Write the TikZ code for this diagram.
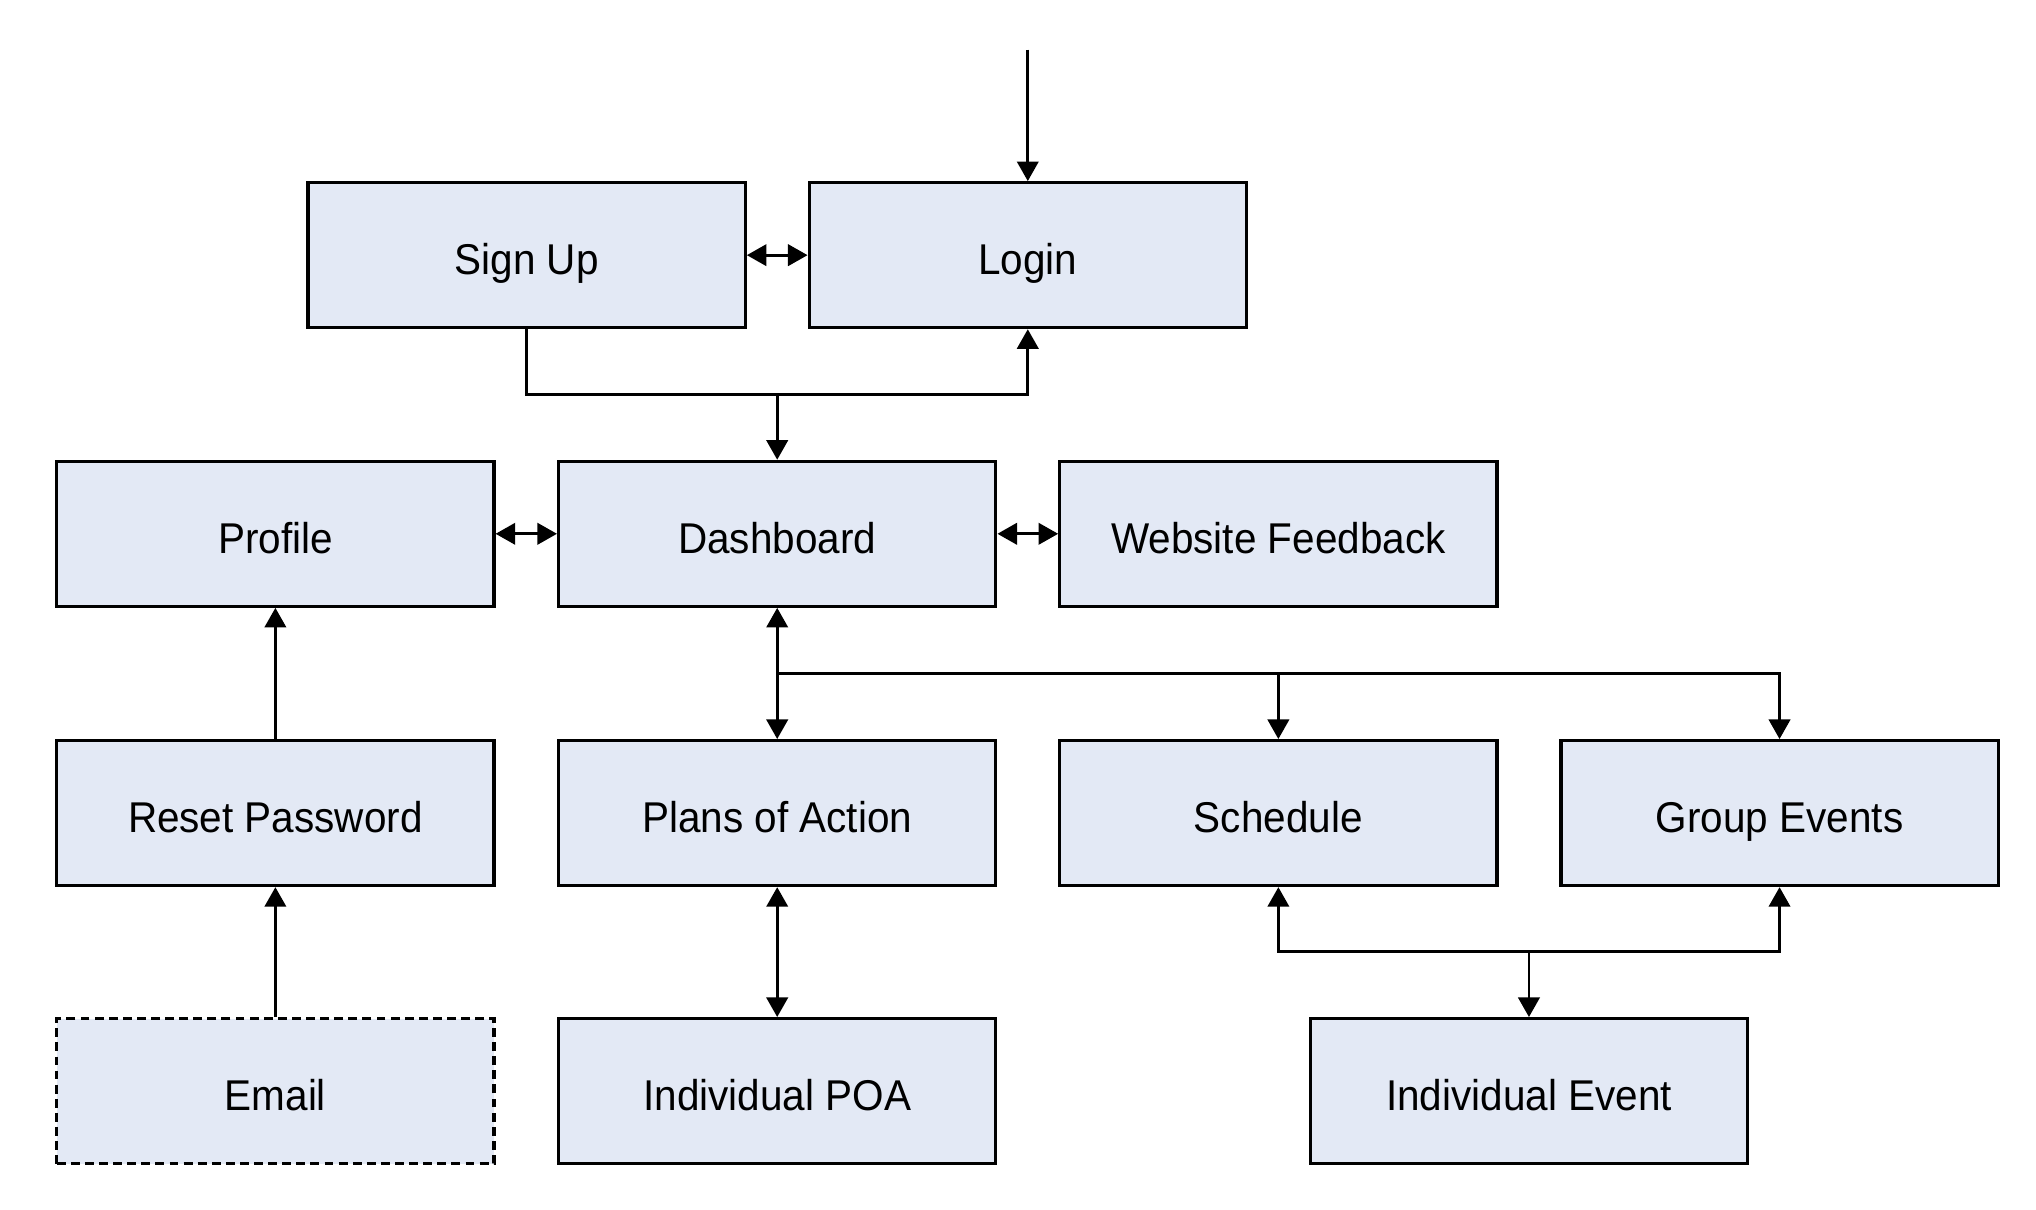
\documentclass[tikz,border=0pt]{standalone}
\usepackage{fontspec}
\setmainfont{Liberation Sans}[FakeStretch=0.94]
\usetikzlibrary{arrows.meta}
\definecolor{boxfill}{RGB}{227,233,245}
\begin{document}
\begin{tikzpicture}[x=0.5pt,y=-0.5pt,
 box/.style={draw=black, fill=boxfill, line width=1.25pt, minimum width=167.5pt, minimum height=55.5pt, inner sep=0pt, text height=15pt, text depth=0pt, font=\fontsize{16.5}{19}\selectfont},
 dashedbox/.style={box, dash pattern=on 3.4pt off 2pt},
 conn/.style={line width=1.05pt, -{Triangle[length=7.5pt,width=8.2pt]}},
 dconn/.style={line width=1.05pt, {Triangle[length=7.5pt,width=8.2pt]}-{Triangle[length=7.5pt,width=8.2pt]}}]
\useasboundingbox (0,0) rectangle (1560,926.4);
\node[box] (signup) at (403.5,195.5) {Sign Up};
\node[box] (login) at (787.5,195.5) {Login};
\node[box] (profile) at (211,409) {Profile};
\node[box] (dash) at (595.5,409) {Dashboard};
\node[box] (feedback) at (979.5,409) {Website Feedback};
\node[box] (reset) at (211,623) {Reset Password};
\node[box] (plans) at (595.5,623) {Plans of Action};
\node[box] (sched) at (979.5,623) {Schedule};
\node[box] (group) at (1363.5,623) {Group Events};
\node[dashedbox] (email) at (211,836) {Email};
\node[box] (ipoa) at (595.5,836) {Individual POA};
\node[box] (ievent) at (1171.5,836) {Individual Event};
\coordinate (start) at (787.5,38);
\coordinate (j1) at (595.5,302);
\coordinate (j2) at (595.5,516);
\coordinate (j3) at (1171.5,729);
\draw[conn] (start) -- (login.north);
\draw[dconn] (signup.east) -- (login.west);
\draw[conn] (signup.south) |- (j1) -| (login.south);
\draw[conn] (j1) -- (dash.north);
\draw[dconn] (profile.east) -- (dash.west);
\draw[dconn] (dash.east) -- (feedback.west);
\draw[dconn] (dash.south) -- (plans.north);
\draw[conn] (j2) -| (sched.north);
\draw[conn] (j2) -| (group.north);
\draw[conn] (reset.north) -- (profile.south);
\draw[conn] (email.north) -- (reset.south);
\draw[dconn] (plans.south) -- (ipoa.north);
\draw[conn] (j3) -| (sched.south);
\draw[conn] (j3) -| (group.south);
\draw[conn] (j3) -- (ievent.north);
\end{tikzpicture}
\end{document}
